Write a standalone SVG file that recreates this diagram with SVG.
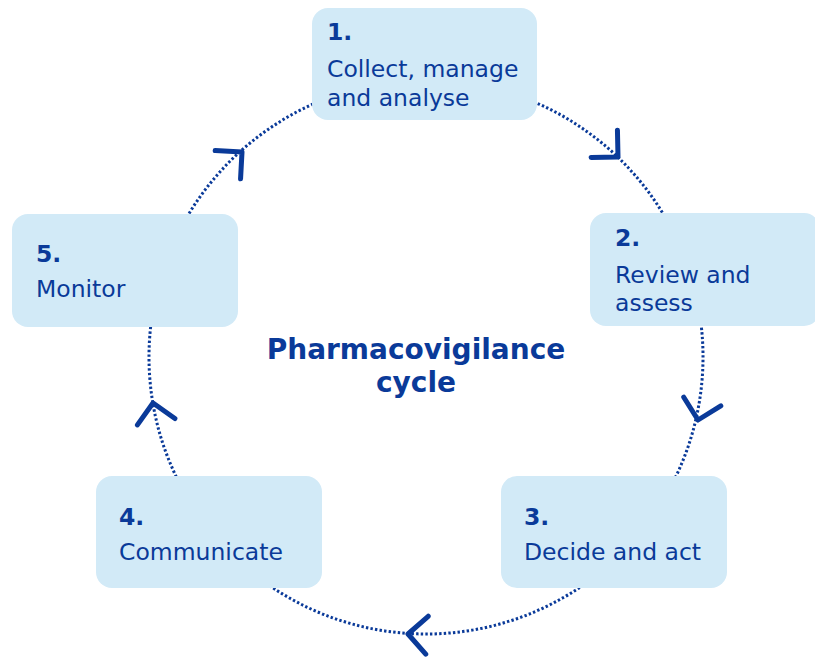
<svg xmlns="http://www.w3.org/2000/svg" width="815" height="657" viewBox="0 0 815 657">
<style>
.box{fill:#d2eaf7;}
.t{font-family:"DejaVu Sans","Verdana",sans-serif;font-size:23.5px;fill:#0a3a99;}
.b{font-weight:bold;}
.title{font-family:"DejaVu Sans","Verdana",sans-serif;font-size:28px;font-weight:bold;fill:#0a3a99;text-anchor:middle;}
.arc{fill:none;stroke:#0a3a99;stroke-width:3;stroke-dasharray:2.4 2.2;}
.chev{fill:none;stroke:#0a3a99;stroke-width:5;stroke-linecap:round;stroke-linejoin:round;}
</style>
<defs>
<path id="chevron" class="chev" d="M-19,-19 L0,0 L-19,19"/>
</defs>
<rect width="815" height="657" fill="#ffffff"/>
<g id="connectors">
<path class="arc" d="M426,80 A277,277 0 0 1 690.2,273.7"/>
<path class="arc" d="M690.2,273.7 A277,277 0 0 1 628.6,545.9"/>
<path class="arc" d="M628.6,545.9 A277,277 0 0 1 210.7,531.3"/>
<path class="arc" d="M210.7,531.3 A277,277 0 0 1 159.7,280.7"/>
<path class="arc" d="M159.7,280.7 A277,277 0 0 1 426,80"/>
<use href="#chevron" transform="translate(618,157) rotate(43.8)"/>
<use href="#chevron" transform="translate(698,420) rotate(103)"/>
<use href="#chevron" transform="translate(408,634) rotate(183.7)"/>
<use href="#chevron" transform="translate(153,403) rotate(260.4)"/>
<use href="#chevron" transform="translate(242,152) rotate(318.1)"/>
</g>
<g id="node1">
<rect class="box" x="312" y="8" width="225" height="112" rx="16"/>
<text class="t b" x="327" y="40">1.</text>
<text class="t" x="327" y="77">Collect, manage</text>
<text class="t" x="327" y="106">and analyse</text>
</g>
<g id="node2">
<rect class="box" x="590" y="213" width="230" height="113" rx="16"/>
<text class="t b" x="615" y="246">2.</text>
<text class="t" x="615" y="283">Review and</text>
<text class="t" x="615" y="311">assess</text>
</g>
<g id="node3">
<rect class="box" x="501" y="476" width="226" height="112" rx="16"/>
<text class="t b" x="524" y="525">3.</text>
<text class="t" x="524" y="560">Decide and act</text>
</g>
<g id="node4">
<rect class="box" x="96" y="476" width="226" height="112" rx="16"/>
<text class="t b" x="119" y="525">4.</text>
<text class="t" x="119" y="560">Communicate</text>
</g>
<g id="node5">
<rect class="box" x="12" y="214" width="226" height="113" rx="16"/>
<text class="t b" x="36" y="262">5.</text>
<text class="t" x="36" y="297">Monitor</text>
</g>
<g id="title">
<text class="title" x="416" y="359">Pharmacovigilance</text>
<text class="title" x="416" y="392">cycle</text>
</g>
</svg>
